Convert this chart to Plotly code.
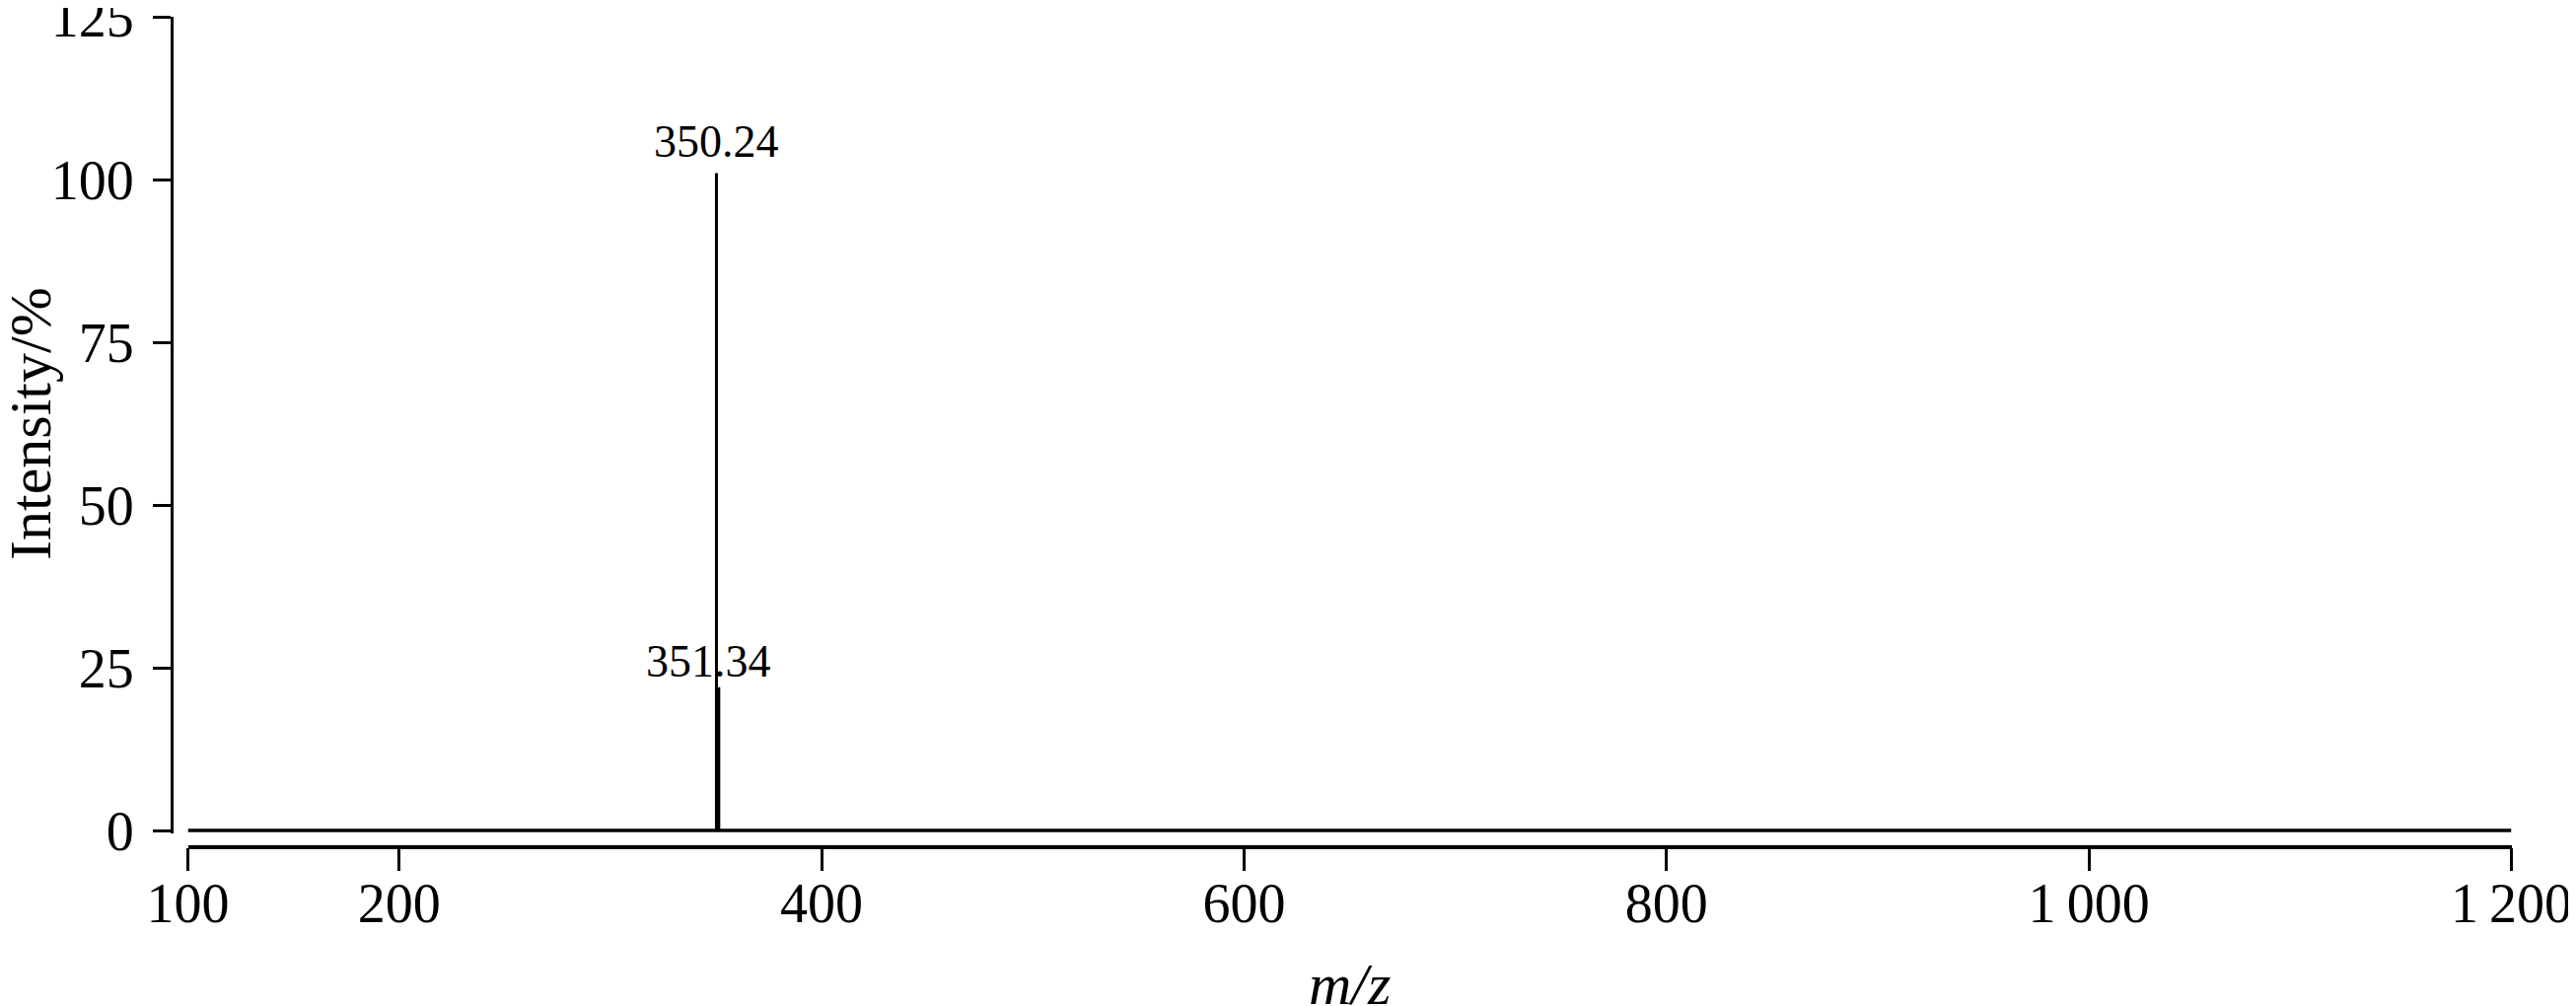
import plotly.graph_objects as go

# ---- data ----
baseline_mz = [100, 1200]
baseline_int = [0, 0]
peak_mz = [350.24, 351.34]
peak_int = [101, 22]
peak_labels = ["350.24", "351.34"]
x_tickvals = [100, 200, 400, 600, 800, 1000, 1200]
x_ticktext = ["100", "200", "400", "600", "800", "1\u2009000", "1\u2009200"]
y_tickvals = [0, 25, 50, 75, 100, 125]
y_ticktext = ["0", "25", "50", "75", "100", "125"]
x_title = "<i>m/z</i>"
y_title = "Intensity/%"

W, H = 2612, 1020
OFF = 8  # default page body margin
FW, FH = W - OFF, H - OFF
FONT = "Liberation Serif, Times New Roman, serif"


def fx(px):
    return (px - OFF) / FW


def fy(py):
    return (H - py) / FH


# stick spectrum built from peak arrays
stick_x, stick_y = [], []
for mz, inten in zip(peak_mz, peak_int):
    stick_x += [mz, mz, None]
    stick_y += [0, inten, None]

fig = go.Figure()
fig.add_trace(go.Scatter(x=baseline_mz, y=baseline_int, mode="lines",
                         line=dict(color="black", width=3.3), showlegend=False,
                         hoverinfo="skip"))
fig.add_trace(go.Scatter(x=stick_x, y=stick_y, mode="lines",
                         line=dict(color="black", width=3), showlegend=False))

shifts = [(0, 4), (-10, -1)]
for mz, inten, lab, (dx, dy) in zip(peak_mz, peak_int, peak_labels, shifts):
    fig.add_annotation(x=mz, y=inten, text=lab, showarrow=False,
                       xanchor="center", yanchor="bottom", xshift=dx, yshift=dy,
                       font=dict(family=FONT, size=46, color="black"))

# axis titles
fig.add_annotation(xref="paper", yref="paper", x=fx(1368), y=fy(1033),
                   text=x_title, showarrow=False, xanchor="center", yanchor="bottom",
                   font=dict(family=FONT, size=60, color="black"))
fig.add_annotation(xref="paper", yref="paper", x=fx(31), y=fy(430),
                   text=y_title, showarrow=False, textangle=-90,
                   xanchor="center", yanchor="middle",
                   font=dict(family=FONT, size=60, color="black"))

fig.update_layout(
    width=FW, height=FH,
    margin=dict(l=0, r=0, t=0, b=0),
    paper_bgcolor="white", plot_bgcolor="white",
    font=dict(family=FONT, color="black"),
    showlegend=False,
    xaxis=dict(
        range=[100, 1200], domain=[fx(190.5), fx(2546.5)],
        anchor="free", position=fy(858.5),
        showline=True, linecolor="black", linewidth=3.5,
        ticks="outside", ticklen=23, tickwidth=2.5, tickcolor="black",
        tickvals=x_tickvals, ticktext=x_ticktext,
        tickfont=dict(family=FONT, size=56, color="black"),
        ticklabelstandoff=-15, ticklabeloverflow="allow",
        showgrid=False, zeroline=False, automargin=False,
    ),
    yaxis=dict(
        range=[-0.5, 125], domain=[fy(845.3), fy(17)],
        anchor="free", position=fx(174),
        showline=True, linecolor="black", linewidth=3.3,
        ticks="outside", ticklen=18, tickwidth=2.5, tickcolor="black",
        tickvals=y_tickvals, ticktext=y_ticktext,
        tickfont=dict(family=FONT, size=56, color="black"),
        ticklabelstandoff=8, ticklabeloverflow="allow",
        showgrid=False, zeroline=False, automargin=False,
    ),
)

fig.write_html("out.html")
